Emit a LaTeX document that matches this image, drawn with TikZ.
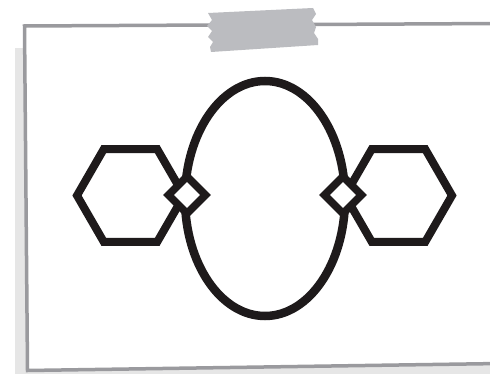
\documentclass[tikz,border=0pt]{standalone}
\usetikzlibrary{shapes.geometric}
\definecolor{cardborder}{HTML}{9A9A9E}
\definecolor{shadowgray}{HTML}{E6E6E6}
\definecolor{tapegray}{HTML}{BBBCC0}
\definecolor{ink}{HTML}{1E1A1B}
\tikzset{
  hexbox/.style={draw=ink, line width=8pt, regular polygon, regular polygon sides=6, minimum size=107pt, inner sep=0pt, outer sep=0pt},
  ringbox/.style={draw=ink, line width=8.5pt, ellipse, minimum width=160pt, minimum height=235pt, inner sep=0pt, outer sep=0pt},
  joinbox/.style={draw=ink, fill=white, line width=7.5pt, diamond, minimum size=37pt, inner sep=0pt, outer sep=0pt}
}
\begin{document}
\begin{tikzpicture}[x=1pt,y=-1pt]
\useasboundingbox (0,0) rectangle (490,374);
% shadow
\fill[shadowgray] (15,48) -- (15,380) -- (500,380) -- (500,48) -- cycle;
% card
\filldraw[fill=white, draw=cardborder, line width=3.5pt] (24.5,26) -- (500,23.5) -- (500,363.5) -- (27.5,370.5) -- cycle;
% tape
\fill[tapegray] (208,13) -- (313,8) -- (316,14) -- (312,20) -- (316,27) -- (314,33) -- (318,39) -- (318,45)
  -- (211,52) -- (210,47) -- (213,42) -- (208,37) -- (212,31) -- (207,26) -- (212,20) -- cycle;
% diagram
\node[ringbox] (ring) at (265,198.5) {};
\node[hexbox] (hexL) at (130.5,195.5) {};
\node[hexbox] (hexR) at (398.5,195.5) {};
\node[joinbox] (joinL) at (187,195) {};
\node[joinbox] (joinR) at (343,195) {};
\end{tikzpicture}
\end{document}
